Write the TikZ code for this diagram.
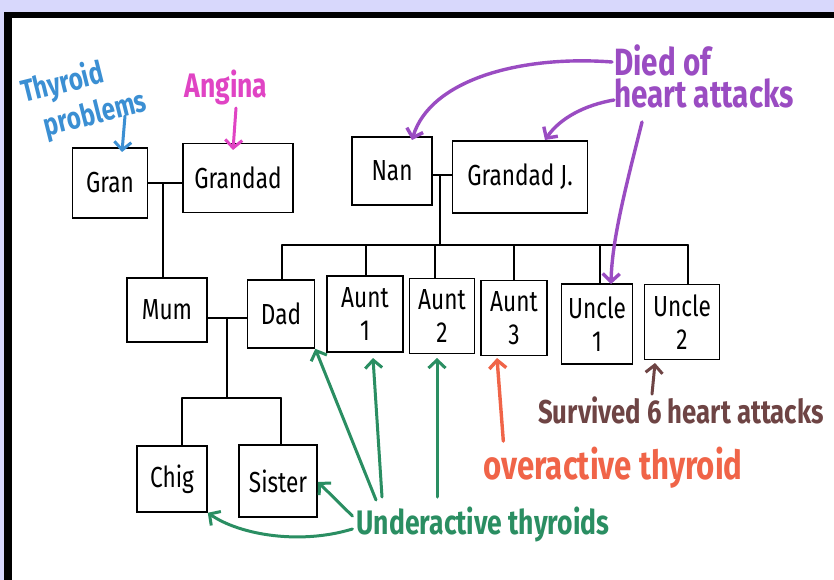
\documentclass[tikz,border=0pt]{standalone}
\usepackage{fontspec}
\setmainfont{Fira Sans}[FakeStretch=0.78]
\usetikzlibrary{arrows.meta}
\definecolor{lav}{RGB}{216,216,252}
\definecolor{tblue}{RGB}{59,143,211}
\definecolor{tmag}{RGB}{224,68,196}
\definecolor{tpurp}{RGB}{154,76,194}
\definecolor{tbrown}{RGB}{110,68,68}
\definecolor{torange}{RGB}{240,100,72}
\definecolor{tgreen}{RGB}{42,142,98}
\begin{document}
\begin{tikzpicture}[x=1pt,y=-1pt,
  person/.style={draw=black, line width=1.6pt, fill=white, inner sep=0pt, align=center,
    font=\fontsize{29}{33}\selectfont},
  link/.style={line width=1.6pt, line cap=round},
  note/.style={font=\fontsize{36}{38}\selectfont\bfseries, inner sep=0pt},
  marker/.style={line width=3.4pt, line cap=round, -{Straight Barb[length=8pt,width=17pt]}}]
\fill[lav] (0,0) rectangle (834,580);
\fill[black] (4,12) rectangle (834,580);
\fill[white] (12,18) rectangle (834,580);
\useasboundingbox (0,0) rectangle (834,580);

% people
\node[person, minimum width=75pt, minimum height=70pt] (gran) at (110,183) {Gran};
\node[person, minimum width=110pt, minimum height=69pt] (grandad) at (238,178) {Grandad};
\node[person, minimum width=80pt, minimum height=68pt] (nan) at (392,171) {Nan};
\node[person, minimum width=135pt, minimum height=72pt] (grandadj) at (520,177) {Grandad J.};
\node[person, minimum width=80pt, minimum height=64pt] (mum) at (167,310) {Mum};
\node[person, minimum width=67pt, minimum height=68pt] (dad) at (281,314) {Dad};
\node[person, minimum width=76pt, minimum height=76pt] (aunta) at (365,314) {Aunt\\1};
\node[person, minimum width=65pt, minimum height=75pt] (auntb) at (442,316) {Aunt\\2};
\node[person, minimum width=66pt, minimum height=75pt] (auntc) at (514,318) {Aunt\\3};
\node[person, minimum width=71pt, minimum height=80pt] (unclea) at (597,324) {Uncle\\1};
\node[person, minimum width=75pt, minimum height=75pt] (uncleb) at (682,322) {Uncle\\2};
\node[person, minimum width=70pt, minimum height=66pt] (chig) at (172,479) {Chig};
\node[person, minimum width=78pt, minimum height=72pt] (sister) at (278,481) {Sister};

% family links
\coordinate (gm) at (163,183);
\draw[link] (gran.east |- gm) -- (grandad.west |- gm);
\draw[link] (gm) -- (gm |- mum.north);
\coordinate (nm) at (440,175);
\draw[link] (nan.east |- nm) -- (grandadj.west |- nm);
\coordinate (sb) at (440,245);
\draw[link] (nm) -- (sb);
\coordinate (sbl) at (282,245);
\coordinate (sbr) at (688,245);
\draw[link] (sbl) -- (sbr);
\draw[link] (sbl) -- (sbl |- dad.north);
\coordinate (da1) at (366,245);
\coordinate (da2) at (435,245);
\coordinate (da3) at (514,245);
\coordinate (du1) at (600,245);
\draw[link] (da1) -- (da1 |- aunta.north);
\draw[link] (da2) -- (da2 |- auntb.north);
\draw[link] (da3) -- (da3 |- auntc.north);
\draw[link] (du1) -- (du1 |- unclea.north);
\draw[link] (sbr) -- (sbr |- uncleb.north);
\coordinate (md) at (227,318);
\draw[link] (mum.east |- md) -- (dad.west |- md);
\coordinate (cb) at (227,398);
\draw[link] (md) -- (cb);
\coordinate (cbl) at (182,398);
\coordinate (cbr) at (281,398);
\draw[link] (cbl) -- (cbr);
\draw[link] (cbl) -- (cbl |- chig.north);
\draw[link] (cbr) -- (cbr |- sister.north);

% annotations
\node[note, text=tblue, font=\fontsize{31}{38}\selectfont\bfseries, rotate=14, align=left] (thy) at (84,98) {Thyroid\\\hspace*{14pt}problems};
\node[note, text=tmag, font=\fontsize{34}{36}\selectfont\bfseries] (ang) at (226,87) {Angina};
\node[note, text=tpurp, font=\fontsize{38}{32}\selectfont\bfseries, align=left, anchor=west] (died) at (614,76) {Died of\\heart attacks};
\node[note, text=tbrown, font=\fontsize{33}{35}\selectfont\bfseries] (surv) at (681,410) {Survived 6 heart attacks};
\node[note, text=torange, font=\fontsize{40}{42}\selectfont\bfseries] (over) at (613,468) {overactive thyroid};
\node[note, text=tgreen, font=\fontsize{34}{36}\selectfont\bfseries] (under) at (483,524) {Underactive thyroids};

\coordinate (p1) at (612,62);
\coordinate (p2) at (614,100);
\coordinate (p3) at (642,122);
\draw[marker, tblue, line width=3pt] (125,116) -- (122,152);
\draw[marker, tmag, line width=3pt] (236,108) -- (233,150);
\draw[marker, tpurp] (p1) .. controls (520,55) and (430,80) .. (412,140);
\draw[marker, tpurp] (p2) .. controls (585,105) and (560,118) .. (545,140);
\draw[marker, tpurp] (p3) .. controls (625,190) and (612,240) .. (611,284);
\draw[marker, tbrown, line width=3pt] (surv.north -| 652,0) ++(0,-2) -- (655,363);
\draw[marker, torange] (over.north west) ++(20,-6) -- (497,358);
\draw[marker, tgreen, line width=3pt] (376,500) -- (dad.south east);
\draw[marker, tgreen, line width=3pt] (382,497) -- (373,358);
\draw[marker, tgreen, line width=3pt] (437,497) -- (437,358);
\draw[marker, tgreen, line width=3pt] (under.west) ++(-4,-8) -- (318,482);
\draw[marker, tgreen, line width=3pt] (under.west) ++(-4,5) .. controls (300,545) and (240,535) .. (chig.south east);
\end{tikzpicture}
\end{document}
